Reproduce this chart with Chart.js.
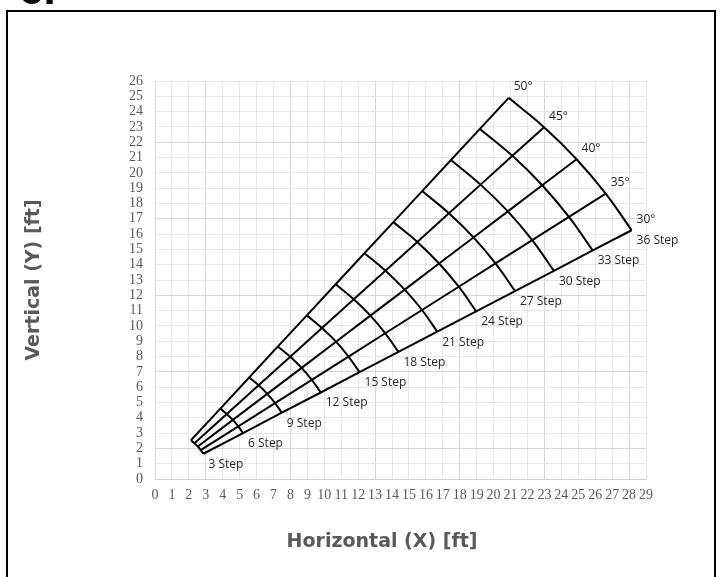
<!DOCTYPE html>
<html>
<head>
<meta charset="utf-8">
<script src="https://cdn.jsdelivr.net/npm/chart.js@4/dist/chart.umd.min.js"></script>
<style>
  html, body { margin: 0; padding: 0; background: #fff; }
  #chart { display: block; }
</style>
</head>
<body>
<canvas id="chart" width="723" height="577"></canvas>
<script>
(function () {
  // step counts (arcs) and angles (rays)
  const STEPS = [3, 6, 9, 12, 15, 18, 21, 24, 27, 30, 33, 36];
  const ANGLES = [30, 35, 40, 45, 50];

  // x [ft] of each step, one column per angle (30, 35, 40, 45, 50)
  const X_BY_STEP = [
    [2.86, 2.70, 2.53, 2.33, 2.12],
    [5.20, 4.92, 4.60, 4.24, 3.86],
    [7.49, 7.09, 6.63, 6.12, 5.56],
    [9.79, 9.26, 8.66, 7.99, 7.26],
    [12.08, 11.43, 10.69, 9.86, 8.97],
    [14.38, 13.60, 12.72, 11.74, 10.67],
    [16.67, 15.77, 14.75, 13.61, 12.37],
    [18.97, 17.94, 16.78, 15.49, 14.08],
    [21.26, 20.11, 18.81, 17.36, 15.78],
    [23.56, 22.28, 20.84, 19.23, 17.48],
    [25.85, 24.45, 22.87, 21.11, 19.19],
    [28.15, 26.62, 24.90, 22.98, 20.89],
  ];

  // y [ft] of each step, same layout
  const Y_BY_STEP = [
    [1.65, 1.89, 2.12, 2.33, 2.53],
    [3.00, 3.44, 3.86, 4.24, 4.60],
    [4.33, 4.96, 5.56, 6.12, 6.63],
    [5.65, 6.48, 7.26, 7.99, 8.66],
    [6.98, 8.00, 8.97, 9.86, 10.69],
    [8.30, 9.52, 10.67, 11.74, 12.72],
    [9.63, 11.04, 12.37, 13.61, 14.75],
    [10.95, 12.56, 14.08, 15.49, 16.78],
    [12.28, 14.08, 15.78, 17.36, 18.81],
    [13.60, 15.60, 17.48, 19.23, 20.84],
    [14.93, 17.12, 19.19, 21.11, 22.87],
    [16.25, 18.64, 20.89, 22.98, 24.90],
  ];

  const X_MAX = 29;
  const Y_MAX = 26;

  const TICK_COLOR = "#595959";
  const LINE_COLOR = "#000000";

  const datasets = [];

  // rays: one straight line per angle, through every step
  ANGLES.forEach((angle, a) => {
    datasets.push({
      label: angle + "°",
      data: STEPS.map((step, s) => ({ x: X_BY_STEP[s][a], y: Y_BY_STEP[s][a] })),
      showLine: true,
      borderColor: LINE_COLOR,
      borderWidth: 2,
      pointRadius: 0,
      tension: 0,
    });
  });

  // arcs: one smooth line per step, across the angles
  STEPS.forEach((step, s) => {
    datasets.push({
      label: step + " Step",
      data: ANGLES.map((angle, a) => ({ x: X_BY_STEP[s][a], y: Y_BY_STEP[s][a] })),
      showLine: true,
      borderColor: LINE_COLOR,
      borderWidth: 2,
      pointRadius: 0,
      tension: 0.4,
    });
  });

  const decorations = {
    id: "decorations",
    afterDatasetsDraw(chart) {
      const { ctx } = chart;
      const xScale = chart.scales.x;
      const yScale = chart.scales.y;
      const last = STEPS.length - 1;

      ctx.save();
      ctx.fillStyle = "#262626";
      ctx.font = "12px 'Open Sans'";
      ctx.textAlign = "left";
      ctx.textBaseline = "middle";

      // step labels below the 30° ray
      STEPS.forEach((step, s) => {
        const px = xScale.getPixelForValue(X_BY_STEP[s][0]);
        const py = yScale.getPixelForValue(Y_BY_STEP[s][0]);
        ctx.fillText(step + " Step", px + 5, py + 10.5);
      });

      // angle labels above the outer end of each ray
      ANGLES.forEach((angle, a) => {
        const px = xScale.getPixelForValue(X_BY_STEP[last][a]);
        const py = yScale.getPixelForValue(Y_BY_STEP[last][a]);
        ctx.fillText(angle + "°", px + 5, py - 11);
      });
      ctx.restore();
    },
    afterDraw(chart) {
      const { ctx } = chart;
      ctx.save();

      // outer frame
      ctx.strokeStyle = "#000";
      ctx.lineWidth = 2;
      ctx.strokeRect(7, 11, 708, 620);

      // cut-off heading above the frame
      ctx.fillStyle = "#000";
      ctx.font = "bold 44px 'Liberation Sans'";
      ctx.textAlign = "left";
      ctx.textBaseline = "alphabetic";
      ctx.fillText("c.", 19, 4);

      // axis titles
      ctx.fillStyle = TICK_COLOR;
      ctx.font = "bold 19px 'DejaVu Sans'";
      ctx.textAlign = "center";
      ctx.textBaseline = "middle";
      ctx.fillText("Horizontal (X) [ft]", 382, 542);

      ctx.translate(34, 280);
      ctx.rotate(-Math.PI / 2);
      ctx.fillText("Vertical (Y) [ft]", 0, 0);
      ctx.restore();
    },
  };

  function gridColor(offset) {
    return (context) => {
      const v = context.tick ? context.tick.value : 0;
      return (v % 5 === offset) ? "#d6d6d6" : "#e6e6e6";
    };
  }

  new Chart(document.getElementById("chart"), {
    type: "scatter",
    data: { datasets },
    options: {
      responsive: false,
      animation: false,
      devicePixelRatio: 1,
      layout: {
        padding: { left: 60, top: 81, right: 77, bottom: 40 },
      },
      plugins: {
        legend: { display: false },
        tooltip: { enabled: false },
      },
      scales: {
        x: {
          type: "linear",
          min: 0,
          max: X_MAX,
          afterFit(scale) {
            scale.height = 58;
          },
          ticks: {
            stepSize: 1,
            autoSkip: false,
            maxRotation: 0,
            padding: 8,
            color: TICK_COLOR,
            font: { family: "'Liberation Serif'", size: 14 },
          },
          grid: {
            color: gridColor(3),
            drawTicks: false,
          },
          border: { color: "#d0d0d0" },
        },
        y: {
          type: "linear",
          min: 0,
          max: Y_MAX,
          afterFit(scale) {
            scale.width = 95;
          },
          ticks: {
            stepSize: 1,
            autoSkip: false,
            padding: 12,
            color: TICK_COLOR,
            font: { family: "'Liberation Serif'", size: 14 },
          },
          grid: {
            color: gridColor(2),
            drawTicks: false,
          },
          border: { color: "#dadada" },
        },
      },
    },
    plugins: [decorations],
  });
})();
</script>
</body>
</html>
